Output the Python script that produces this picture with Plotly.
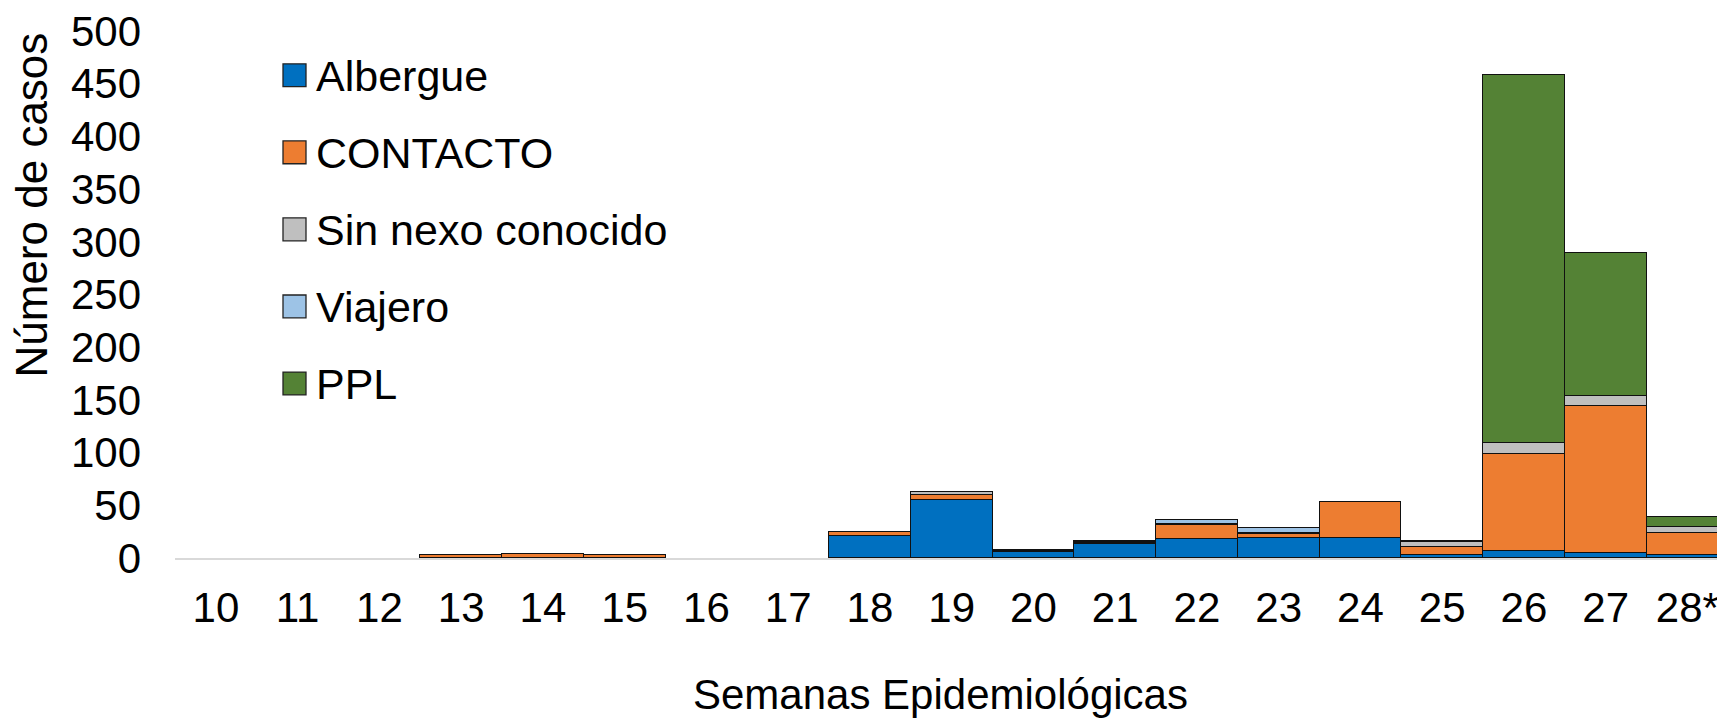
import plotly.graph_objects as go

# ---------------- data ----------------
weeks = ["10", "11", "12", "13", "14", "15", "16", "17", "18", "19",
         "20", "21", "22", "23", "24", "25", "26", "27", "28*"]
albergue = [0, 0, 0, 0, 0, 0, 0, 0, 21, 55, 6, 13, 18, 19, 19, 3, 7, 5, 3]
contacto = [0, 0, 0, 3, 4, 3, 0, 0, 4, 5, 1, 1, 13, 4, 34, 7, 92, 139, 21]
sin_nexo = [0, 0, 0, 0, 0, 0, 0, 0, 0, 3, 1, 1, 1, 1, 0, 5, 10, 10, 5]
viajero = [0, 0, 0, 0, 0, 0, 0, 0, 0, 0, 0, 1, 4, 4, 0, 1, 0, 0, 0]
ppl = [0, 0, 0, 0, 0, 0, 0, 0, 0, 0, 0, 0, 0, 0, 0, 0, 349, 135, 10]

series_names = ["Albergue", "CONTACTO", "Sin nexo conocido", "Viajero", "PPL"]
series_values = [albergue, contacto, sin_nexo, viajero, ppl]
series_colors = ["#0070C0", "#ED7D31", "#BFBFBF", "#9DC3E6", "#548235"]

y_ticks = list(range(0, 501, 50))
y_title = "Número de casos"
x_title = "Semanas Epidemiológicas"
n_label = "N= 1.037"

# ---------------- layout geometry (pixels) ----------------
W, H = 1725, 719
OFF = 8                      # default body margin of the html page
FW, FH = W - OFF, H - OFF    # figure size
ML, MR, MT, MB = 175 - OFF, 0, 28 - OFF, FH - (558 - OFF)
PW, PH = FW - ML - MR, FH - MT - MB
FONT = "Liberation Sans, Arial, sans-serif"
FS = 42


def px_x(page_px):
    return (page_px - OFF - ML) / PW


def px_y(page_py):
    return (FH - MB - (page_py - OFF)) / PH


fig = go.Figure()
for name, vals, col in zip(series_names, series_values, series_colors):
    fig.add_trace(go.Bar(
        x=weeks,
        y=[v if v else None for v in vals],
        name=name,
        marker=dict(color=col, line=dict(color="#111111", width=1.5)),
        showlegend=False,
    ))

# manual legend (large square swatches like the original)
leg_y = [72.5, 150, 227.5, 305, 382.5]
shapes = []
annotations = []
for name, col, cy in zip(series_names, series_colors, leg_y):
    shapes.append(dict(type="rect", xref="paper", yref="paper",
                       x0=px_x(283), x1=px_x(306), y0=px_y(cy + 11.5), y1=px_y(cy - 11.5),
                       fillcolor=col, line=dict(color="#222222", width=1.3)))
    annotations.append(dict(text=name, xref="paper", yref="paper",
                            x=px_x(314), y=px_y(cy + 1), xanchor="left", yanchor="middle",
                            showarrow=False, font=dict(family=FONT, size=43, color="#000000")))

annotations.append(dict(text=y_title, xref="paper", yref="paper", textangle=-90,
                        x=px_x(32), y=px_y(203.5), xanchor="center", yanchor="middle",
                        showarrow=False, font=dict(family=FONT, size=44, color="#000000")))
annotations.append(dict(text=x_title, xref="paper", yref="paper",
                        x=px_x(940), y=px_y(695), xanchor="center", yanchor="middle",
                        showarrow=False, font=dict(family=FONT, size=FS, color="#000000")))
annotations.append(dict(text=n_label, xref="paper", yref="paper",
                        x=px_x(1699), y=px_y(14.5), xanchor="right", yanchor="bottom",
                        showarrow=False, font=dict(family=FONT, size=FS, color="#000000")))

fig.update_layout(
    width=FW, height=FH,
    margin=dict(l=ML, r=MR, t=MT, b=MB, pad=0),
    barmode="stack", bargap=0,
    plot_bgcolor="white", paper_bgcolor="white",
    font=dict(family=FONT, size=FS, color="#000000"),
    shapes=shapes, annotations=annotations,
    xaxis=dict(type="category", range=[-0.5, 18.46], showgrid=False,
               showline=True, linecolor="#D9D9D9", linewidth=1.5,
               ticks="", ticklabelstandoff=12, zeroline=False,
               ticklabeloverflow="allow",
               tickfont=dict(family=FONT, size=FS, color="#000000")),
    yaxis=dict(range=[0, 500], tickvals=y_ticks, showgrid=False, showline=False,
               zeroline=False, ticks="", ticklabelstandoff=33,
               ticklabeloverflow="allow",
               tickfont=dict(family=FONT, size=FS, color="#000000")),
)

fig.write_html("out.html")
